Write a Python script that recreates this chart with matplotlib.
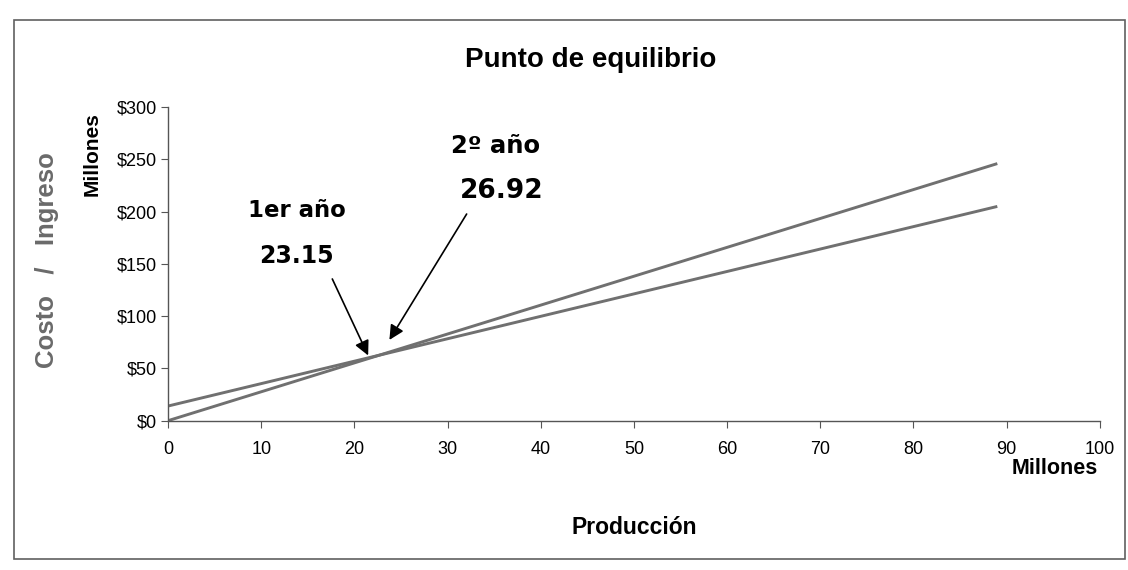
import matplotlib.pyplot as plt
from matplotlib.patches import Rectangle
from matplotlib.ticker import FuncFormatter

# datos (millones)
produccion = [0, 89]
ingreso = [0, 246]
costo = [14, 205]

x_ticks = [0, 10, 20, 30, 40, 50, 60, 70, 80, 90, 100]
y_ticks = [0, 50, 100, 150, 200, 250, 300]

etiquetas = ['1er año', '23.15', '2º año', '26.92']

plt.rcParams['font.family'] = ['Liberation Sans', 'DejaVu Sans']

fig = plt.figure(figsize=(11.28, 5.7), dpi=100)
ax = fig.add_axes([0.149, 0.262, 0.826, 0.55])

gris = '#707070'
ax.plot(produccion, ingreso, color=gris, lw=2.1, solid_capstyle='butt')
ax.plot(produccion, costo, color=gris, lw=2.1, solid_capstyle='butt')

ax.set_xlim(0, 100)
ax.set_ylim(0, 300)
ax.set_xticks(x_ticks)
ax.set_yticks(y_ticks)
ax.yaxis.set_major_formatter(FuncFormatter(lambda v, p: '${:,.0f}'.format(v)))
ax.tick_params(axis='both', direction='out', length=5, color='#555555', labelsize=13)
ax.tick_params(axis='x', pad=10)
ax.tick_params(axis='y', pad=3)
for s in ['top', 'right']:
    ax.spines[s].set_visible(False)
for s in ['left', 'bottom']:
    ax.spines[s].set_color('#555555')
    ax.spines[s].set_linewidth(1.0)

fig.text(0.524, 0.895, 'Punto de equilibrio', ha='center', va='center',
         fontsize=20, fontweight='bold')
fig.text(0.042, 0.544, 'Costo   /   Ingreso', rotation=90, ha='center', va='center',
         fontsize=18.5, fontweight='bold', color='#6a6a6a')
fig.text(0.082, 0.73, 'Millones', rotation=90, ha='center', va='center',
         fontsize=15, fontweight='bold')
fig.text(0.973, 0.178, 'Millones', ha='right', va='center',
         fontsize=15.5, fontweight='bold')
fig.text(0.562, 0.075, 'Producción', ha='center', va='center',
         fontsize=16.5, fontweight='bold')

fuente = ['DejaVu Sans']
ax.text(13.8, 201, etiquetas[0], ha='center', va='center', fontsize=16.4,
        fontweight='bold', family=fuente)
ax.text(13.8, 158, etiquetas[1], ha='center', va='center', fontsize=17,
        fontweight='bold', family=fuente)
ax.text(35.2, 263, etiquetas[2], ha='center', va='center', fontsize=17.5,
        fontweight='bold', family=fuente)
ax.text(35.8, 220, etiquetas[3], ha='center', va='center', fontsize=19,
        fontweight='bold', family=fuente)

flecha = dict(arrowstyle='-|>', color='black', lw=1.2, mutation_scale=22)
ax.annotate('', xy=(21.6, 60), xytext=(17.5, 138), arrowprops=flecha)
ax.annotate('', xy=(23.6, 75), xytext=(32.2, 200), arrowprops=flecha)

fig.patches.append(Rectangle((0.012, 0.02), 0.985, 0.945, transform=fig.transFigure,
                             fill=False, edgecolor='#606060', lw=1.2))

fig.savefig('out.png', dpi=100)
